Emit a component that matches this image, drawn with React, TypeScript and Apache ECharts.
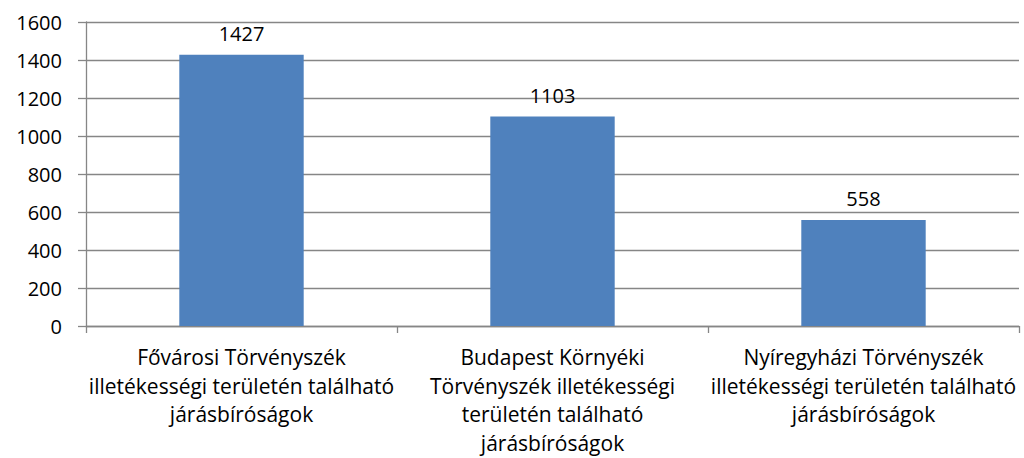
import React, { useEffect, useRef } from "react";
import * as echarts from "echarts";

const categories: string[] = [
  "Fővárosi Törvényszék\nilletékességi területén található\njárásbíróságok",
  "Budapest Környéki\nTörvényszék illetékességi\nterületén található\njárásbíróságok",
  "Nyíregyházi Törvényszék\nilletékességi területén található\njárásbíróságok",
];
const values: number[] = [1427, 1103, 558];
const yMin = 0;
const yMax = 1600;
const yInterval = 200;

export default function App() {
  const ref = useRef<HTMLDivElement>(null);
  useEffect(() => {
    if (!ref.current) return;
    const chart = echarts.init(ref.current, null, { renderer: "svg" });
    const font = "'Open Sans', 'Liberation Sans', sans-serif";
    chart.setOption({
      animation: false,
      backgroundColor: "#ffffff",
      grid: { left: 86, right: 5, top: 22, bottom: 132, containLabel: false },
      xAxis: {
        type: "category",
        data: categories,
        axisLine: { show: true, lineStyle: { color: "#868686", width: 1.3 } },
        axisTick: { show: true, alignWithLabel: false, length: 7, lineStyle: { color: "#868686", width: 1.3 } },
        axisLabel: {
          interval: 0,
          color: "#000000",
          fontFamily: font,
          fontSize: 21,
          lineHeight: 28.5,
          margin: 17,
        },
      },
      yAxis: {
        type: "value",
        min: yMin,
        max: yMax,
        interval: yInterval,
        axisLine: { show: true, lineStyle: { color: "#868686", width: 1.3 } },
        axisTick: { show: true, length: 8, lineStyle: { color: "#868686", width: 1.3 } },
        splitLine: { show: true, lineStyle: { color: "#868686", width: 1.3 } },
        axisLabel: {
          color: "#000000",
          fontFamily: font,
          fontSize: 20,
          margin: 24,
          formatter: (v: number) => String(v),
        },
      },
      series: [
        {
          type: "bar",
          data: values,
          barWidth: "40%",
          itemStyle: { color: "#4F81BD" },
          label: {
            show: true,
            position: "top",
            distance: 11,
            color: "#000000",
            fontFamily: font,
            fontSize: 20,
          },
        },
      ],
    });
    return () => chart.dispose();
  }, []);
  return (
    <div
      ref={ref}
      style={{ position: "fixed", left: 0, top: 0, width: 1024, height: 458 }}
    />
  );
}
